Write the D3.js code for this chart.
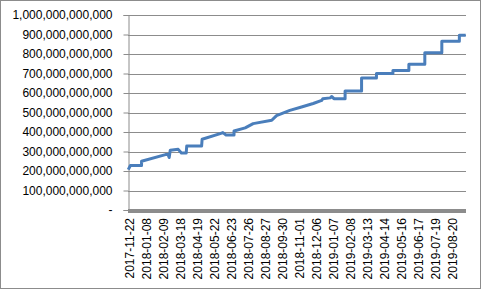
<!DOCTYPE html>
<html>
<head>
<meta charset="utf-8">
<script src="https://cdn.jsdelivr.net/npm/d3@7"></script>
<style>
  body { margin: 0; background: #fff; }
  svg { display: block; font-family: "Liberation Sans", Arial, sans-serif; }
</style>
</head>
<body>
<div id="chart"></div>
<script>
const width = 481, height = 289;
const margin = {top: 15, right: 15, bottom: 79, left: 128};

// category labels shown on the x axis (every 32nd point)
const dateLabels = ['2017-11-22', '2018-01-08', '2018-02-09', '2018-03-18', '2018-04-19',
  '2018-05-22', '2018-06-23', '2018-07-26', '2018-08-27', '2018-09-30', '2018-11-01',
  '2018-12-06', '2019-01-07', '2019-02-08', '2019-03-13', '2019-04-14', '2019-05-16',
  '2019-06-17', '2019-07-19', '2019-08-20'];
const labelEvery = 32;
const pointCount = 636;

// series: point index and cumulative value (billions)
const pointIndex = [0, 4, 25, 25, 70, 75, 77, 79, 94, 100, 109, 110, 138, 139, 173, 178, 184,
  199, 199, 220, 235, 270, 279, 304, 326, 348, 364, 366, 380, 383, 387, 408, 408, 439, 439,
  467, 467, 498, 498, 528, 528, 558, 558, 590, 590, 623, 623, 635];
const valueBn = [207, 228, 228, 250, 284, 284, 269, 306, 311, 292, 292, 328, 328, 363, 392, 397, 385,
  385, 405, 421, 443, 460, 484, 511, 528, 546, 562, 571, 575, 582, 571, 571, 610, 610, 677,
  677, 700, 700, 715, 715, 747, 747, 807, 807, 865, 865, 896, 896];

const yTicks = d3.range(0, 1e12 + 1, 1e11);

const series = pointIndex.map((d, i) => ({i: d, v: valueBn[i] * 1e9}));

const svg = d3.select('#chart').append('svg')
  .attr('width', width).attr('height', height);

// outer chart border
svg.append('rect')
  .attr('x', 0.5).attr('y', 0.5)
  .attr('width', width - 1).attr('height', height - 1)
  .attr('fill', '#fff').attr('stroke', '#8c8c8c');

const x = d3.scaleLinear()
  .domain([-0.5, pointCount - 0.5])
  .range([margin.left, width - margin.right]);
const y = d3.scaleLinear()
  .domain([0, 1e12])
  .range([height - margin.bottom, margin.top]);

// gridlines
svg.append('g')
  .selectAll('line')
  .data(yTicks.slice(1))
  .join('line')
  .attr('x1', margin.left).attr('x2', width - margin.right)
  .attr('y1', d => Math.round(y(d)) + 0.5).attr('y2', d => Math.round(y(d)) + 0.5)
  .attr('stroke', '#8c8c8c');

// y axis
const fmt = d3.format(',.0f');
const yAxis = svg.append('g')
  .attr('transform', `translate(${margin.left + 0.5},0)`)
  .call(d3.axisLeft(y).tickValues(yTicks).tickSize(5).tickPadding(11)
    .tickFormat(d => d === 0 ? '-' : fmt(d)));
yAxis.select('.domain').attr('stroke', '#8c8c8c');
yAxis.selectAll('.tick line').attr('stroke', '#8c8c8c');
yAxis.selectAll('.tick text')
  .attr('font-size', 12).attr('fill', '#000')
  .attr('font-family', '"Liberation Sans", Arial, sans-serif');

// x axis band
svg.append('line')
  .attr('x1', margin.left).attr('x2', width - margin.right)
  .attr('y1', y(0) + 1).attr('y2', y(0) + 1)
  .attr('stroke', '#8c8c8c').attr('stroke-width', 4);

// x labels, rotated
svg.append('g')
  .selectAll('text')
  .data(dateLabels)
  .join('text')
  .attr('transform', (d, i) => `translate(${x(i * labelEvery) + 6},${y(0) + 8}) rotate(-90)`)
  .attr('text-anchor', 'end')
  .attr('font-size', 12)
  .attr('fill', '#000')
  .text(d => d);

// line
const line = d3.line()
  .x(d => x(d.i))
  .y(d => y(d.v));

svg.append('path')
  .datum(series)
  .attr('d', line)
  .attr('fill', 'none')
  .attr('stroke', '#4a7ebb')
  .attr('stroke-width', 3)
  .attr('stroke-linejoin', 'round');
</script>
</body>
</html>
